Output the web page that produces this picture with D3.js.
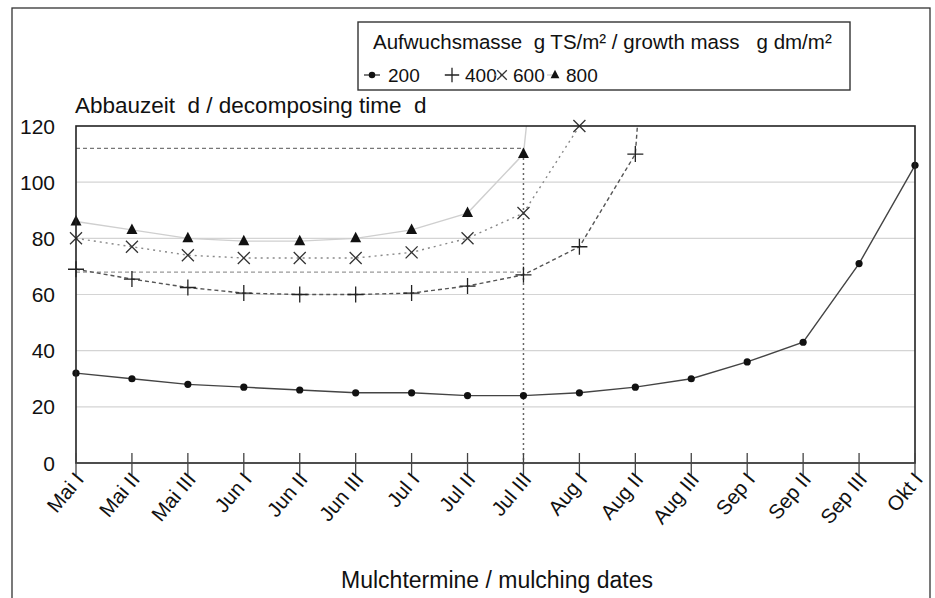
<!DOCTYPE html>
<html><head><meta charset="utf-8">
<script src="https://cdn.jsdelivr.net/npm/d3@7"></script>
<style>body{margin:0;background:#fff}svg{display:block}text{font-family:"Liberation Sans",Arial,Helvetica,sans-serif;fill:#111;white-space:pre}</style>
</head><body>
<svg id="c" width="935" height="598"></svg>
<script>
const categories = ["Mai I","Mai II","Mai III","Jun I","Jun II","Jun III","Jul I","Jul II","Jul III","Aug I","Aug II","Aug III","Sep I","Sep II","Sep III","Okt I"];
const s200 = [32,30,28,27,26,25,25,24,24,25,27,30,36,43,71,106];
const s400 = [69,65.5,62.5,60.5,60,60,60.5,63,67,77,110,380];
const s600 = [80,77,74,73,73,73,75,80,89,120];
const s800 = [86,83,80,79,79,80,83,89,110,300];
const seriesNames = ["200","400","600","800"];
const yTicks = [0,20,40,60,80,100,120];
const refLevels = [112,68];
const refCategory = "Jul III";
const yMax = 120;

const svg = d3.select("#c");
const M = {l:76, r:915, t:126, b:463};
const x = d3.scalePoint().domain(categories).range([M.l, M.r]);
const y = d3.scaleLinear().domain([0, yMax]).range([M.b, M.t]);

// outer frame
svg.append("rect").attr("x",12).attr("y",8).attr("width",918).attr("height",600)
  .attr("fill","none").attr("stroke","#333").attr("stroke-width",1.3);

svg.append("defs").append("clipPath").attr("id","clip")
  .append("rect").attr("x",M.l-8).attr("y",M.t).attr("width",M.r-M.l+16).attr("height",M.b-M.t+8);

// gridlines
svg.append("g").selectAll("line").data(yTicks.filter(v=>v>0 && v<yMax)).join("line")
  .attr("x1",M.l).attr("x2",M.r).attr("y1",d=>y(d)).attr("y2",d=>y(d))
  .attr("stroke","#d4d4d4").attr("stroke-width",1.2);

// y tick labels
svg.append("g").selectAll("text").data(yTicks).join("text")
  .attr("x",55).attr("y",d=>y(d)).attr("dy","0.36em").attr("text-anchor","end")
  .attr("font-size",21).text(d=>d);

// reference lines
const xr = x(refCategory);
svg.append("g").selectAll("line").data(refLevels).join("line")
  .attr("x1",M.l).attr("x2",xr).attr("y1",d=>y(d)).attr("y2",d=>y(d))
  .attr("stroke",(d,i)=>i===0?"#777":"#999").attr("stroke-width",1.2).attr("stroke-dasharray","4,3");
svg.append("line").attr("x1",xr).attr("x2",xr).attr("y1",y(0)+2).attr("y2",y(refLevels[0]))
  .attr("stroke","#666").attr("stroke-width",1.5).attr("stroke-dasharray","2,3");

// series lines
const styles = {
  "200":{data:s200, stroke:"#444", w:1.4, dash:null},
  "400":{data:s400, stroke:"#555", w:1.4, dash:"4,3"},
  "600":{data:s600, stroke:"#888", w:1.4, dash:"2,4"},
  "800":{data:s800, stroke:"#cfcfcf", w:1.4, dash:null}
};
const line = d3.line().x(d=>x(d.c)).y(d=>y(d.v));
const gl = svg.append("g").attr("clip-path","url(#clip)");
seriesNames.slice().reverse().forEach(n=>{
  const st = styles[n];
  const pts = st.data.map((v,i)=>({c:categories[i], v}));
  gl.append("path").datum(pts).attr("d",line).attr("fill","none")
    .attr("stroke",st.stroke).attr("stroke-width",st.w).attr("stroke-dasharray",st.dash);
});

// markers
function marker(g, n, cx, cy, s){
  if(n==="200"){ g.append("circle").attr("cx",cx).attr("cy",cy).attr("r",3.6*s).attr("fill","#111"); }
  else if(n==="400"){ g.append("path").attr("d",`M${cx-8*s},${cy}H${cx+8*s}M${cx},${cy-8*s}V${cy+8*s}`).attr("stroke","#222").attr("stroke-width",1.3); }
  else if(n==="600"){ g.append("path").attr("d",`M${cx-6*s},${cy-6*s}L${cx+6*s},${cy+6*s}M${cx-6*s},${cy+6*s}L${cx+6*s},${cy-6*s}`).attr("stroke","#333").attr("stroke-width",1.3); }
  else { g.append("path").attr("d",`M${cx},${cy-6.5*s}L${cx+5.5*s},${cy+4*s}L${cx-5.5*s},${cy+4*s}Z`).attr("fill","#111"); }
}
const gm = svg.append("g");
seriesNames.forEach(n=>{
  styles[n].data.forEach((v,i)=>{ if(v<=yMax) marker(gm, n, x(categories[i]), y(v), 1); });
});

// axes frame
svg.append("rect").attr("x",M.l).attr("y",M.t).attr("width",M.r-M.l).attr("height",M.b-M.t)
  .attr("fill","none").attr("stroke","#222").attr("stroke-width",1.6);

// x ticks
svg.append("g").selectAll("line").data(categories).join("line")
  .attr("x1",d=>x(d)).attr("x2",d=>x(d)).attr("y1",M.b-10).attr("y2",M.b+12)
  .attr("stroke","#444").attr("stroke-width",1.3);

// x labels
svg.append("g").selectAll("text").data(categories).join("text")
  .attr("text-anchor","end").attr("font-size",20.5)
  .attr("transform",d=>`translate(${x(d)+9},${M.b+17}) rotate(-50)`)
  .text(d=>d);

// titles
svg.append("text").attr("x",75).attr("y",113).attr("font-size",22.5).text("Abbauzeit  d / decomposing time  d");
svg.append("text").attr("x",497).attr("y",588).attr("text-anchor","middle").attr("font-size",23).text("Mulchtermine / mulching dates");

// legend
const lg = svg.append("g");
lg.append("rect").attr("x",358).attr("y",22).attr("width",492).attr("height",68)
  .attr("fill","#fff").attr("stroke","#333").attr("stroke-width",1.4);
lg.append("text").attr("x",373).attr("y",49).attr("font-size",20.5)
  .text("Aufwuchsmasse  g TS/m² / growth mass   g dm/m²");
const legX = [372, 452, 502, 555];
const legT = [388, 465, 513, 566];
seriesNames.forEach((n,i)=>{
  const st = styles[n];
  if(n!=="400"){
    lg.append("line").attr("x1",legX[i]-8).attr("x2",legX[i]+(n==="200"?8:0)).attr("y1",75).attr("y2",75)
      .attr("stroke",st.stroke).attr("stroke-width",1.4).attr("stroke-dasharray",st.dash);
  }
  marker(lg, n, legX[i], 75, n==="800"?0.8:(n==="600"?0.8:0.9));
  lg.append("text").attr("x",legT[i]).attr("y",75).attr("dy","0.36em").attr("font-size",19).text(n);
});
</script>
</body></html>
